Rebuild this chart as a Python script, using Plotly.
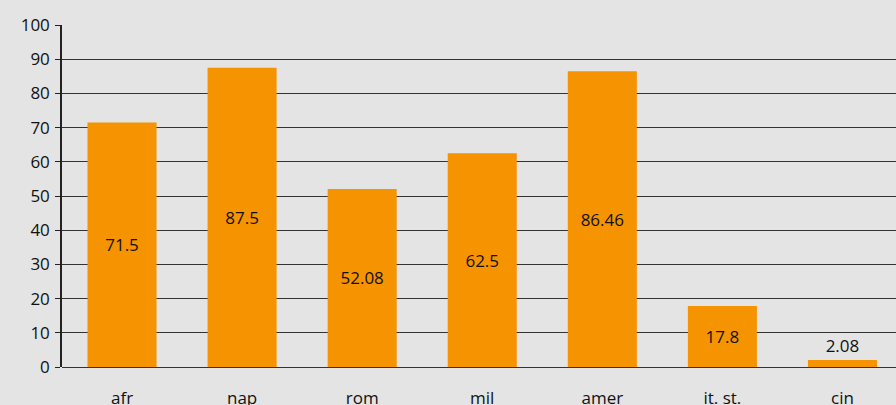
import plotly.graph_objects as go

categories = ["afr", "nap", "rom", "mil", "amer", "it. st.", "cin"]
values = [71.5, 87.5, 52.08, 62.5, 86.46, 17.8, 2.08]
labels = ["71.5", "87.5", "52.08", "62.5", "86.46", "17.8", "2.08"]
y_ticks = list(range(0, 101, 10))

positions = ["inside"] * 6 + ["outside"]

fig = go.Figure(go.Bar(
    x=categories, y=values, text=labels,
    textposition=positions, insidetextanchor="middle",
    textfont=dict(size=17, color="#111111", family="Open Sans"),
    outsidetextfont=dict(size=17, color="#111111", family="Open Sans"),
    marker=dict(color="#f59300", line=dict(width=0)),
    width=0.575, cliponaxis=False,
))

fig.update_layout(
    width=896, height=405,
    margin=dict(l=62, r=0, t=25, b=38),
    paper_bgcolor="#e3e4e3", plot_bgcolor="#e3e4e3",
    font=dict(family="Open Sans", size=17, color="#111111"),
    showlegend=False,
    bargap=0.425,
)
fig.update_xaxes(
    range=[-0.5, 6.446], showgrid=False, showline=False, ticks="",
    tickfont=dict(size=17), ticklabelstandoff=19, automargin=False,
)
fig.update_yaxes(
    range=[0, 100], tickvals=y_ticks, showgrid=True, gridcolor="#333333", gridwidth=1,
    showline=True, linecolor="#222222", linewidth=1.5, ticks="outside", ticklen=5,
    tickcolor="#222222", zeroline=True, zerolinecolor="#333333", zerolinewidth=1,
    tickfont=dict(size=17), ticklabelstandoff=2, automargin=False,
)

fig.write_html(
    "out.html",
    config={"displayModeBar": False},
    post_script="document.body.style.margin='0';document.body.style.background='#e3e4e3';",
)
